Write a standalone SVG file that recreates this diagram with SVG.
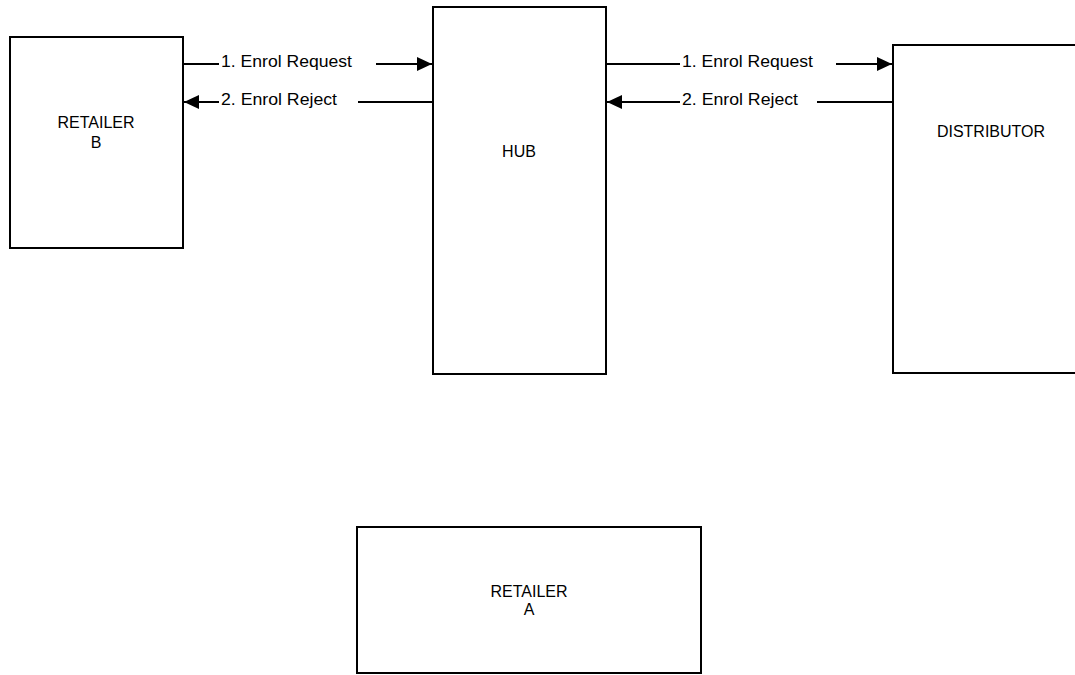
<svg xmlns="http://www.w3.org/2000/svg" width="1075" height="675" viewBox="0 0 1075 675">
<style>
.box{fill:#fff;stroke:#000;stroke-width:2}
.lbl{font-family:"Liberation Sans",Arial,sans-serif;font-size:16px;fill:#000;text-anchor:middle}
.msg{font-family:"Liberation Sans",Arial,sans-serif;font-size:16px;fill:#000}
.ln{stroke:#000;stroke-width:2;fill:none}
</style>
<defs>
<marker id="ah" markerWidth="15" markerHeight="14" refX="15" refY="7" orient="auto" markerUnits="userSpaceOnUse">
<path d="M0,0 L15,7 L0,14 Z" fill="#000"/>
</marker>
</defs>
<rect width="1075" height="675" fill="#fff"/>
<g id="retailer-b">
<rect class="box" x="10" y="37" width="173" height="211"/>
<text class="lbl" x="96" y="128">RETAILER</text>
<text class="lbl" x="96" y="148">B</text>
</g>
<g id="hub">
<rect class="box" x="433" y="7" width="173" height="367"/>
<text class="lbl" x="519" y="157">HUB</text>
</g>
<g id="distributor">
<rect class="box" x="893" y="45" width="200" height="328"/>
<text class="lbl" x="991" y="137">DISTRIBUTOR</text>
</g>
<g id="retailer-a">
<rect class="box" x="357" y="527" width="344" height="146"/>
<text class="lbl" x="529" y="597">RETAILER</text>
<text class="lbl" x="529" y="615">A</text>
</g>
<g id="connectors">
<line class="ln" x1="183" y1="64" x2="219" y2="64"/>
<line class="ln" x1="376" y1="64" x2="432" y2="64" marker-end="url(#ah)"/>
<text class="msg" x="221" y="67" textLength="131" lengthAdjust="spacingAndGlyphs">1. Enrol Request</text>
<line class="ln" x1="432" y1="102" x2="358" y2="102"/>
<line class="ln" x1="219" y1="102" x2="184" y2="102" marker-end="url(#ah)"/>
<text class="msg" x="221" y="105" textLength="116" lengthAdjust="spacingAndGlyphs">2. Enrol Reject</text>
<line class="ln" x1="606" y1="64" x2="680" y2="64"/>
<line class="ln" x1="836" y1="64" x2="892" y2="64" marker-end="url(#ah)"/>
<text class="msg" x="682" y="67" textLength="131" lengthAdjust="spacingAndGlyphs">1. Enrol Request</text>
<line class="ln" x1="892" y1="102" x2="817" y2="102"/>
<line class="ln" x1="680" y1="102" x2="607" y2="102" marker-end="url(#ah)"/>
<text class="msg" x="682" y="105" textLength="116" lengthAdjust="spacingAndGlyphs">2. Enrol Reject</text>
</g>
</svg>
